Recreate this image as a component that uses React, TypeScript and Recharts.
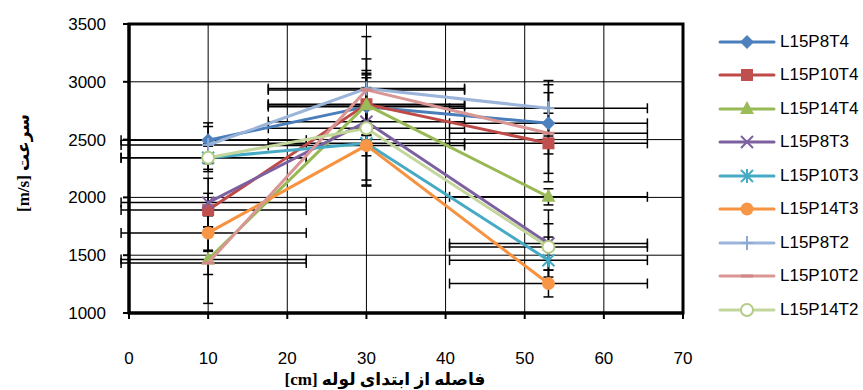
import React from 'react';
import { ScatterChart, Scatter, XAxis, YAxis, CartesianGrid, ErrorBar, ReferenceArea, Label } from 'recharts';

// distance from pipe start [cm]
const distances = [10, 30, 53];
const xTicks = [0, 10, 20, 30, 40, 50, 60, 70];
const yTicks = [1000, 1500, 2000, 2500, 3000, 3500];
// horizontal error [minus, plus], same for every series
const distanceErr = [[11, 12.4], [12.4, 12.4], [12.5, 12.5]];

// velocity [m/s] at each distance
const l15p8t4 = [2495, 2785, 2641];
const l15p10t4 = [1890, 2806, 2468];
const l15p14t4 = [1463, 2800, 2005];
const l15p8t3 = [1955, 2655, 1601];
const l15p10t3 = [2343, 2468, 1457];
const l15p14t3 = [1693, 2450, 1255];
const l15p8t2 = [2453, 2941, 2771];
const l15p10t2 = [1433, 2930, 2555];
const l15p14t2 = [2343, 2598, 1572];

// vertical error (+/-)
const l15p8t4Err = [150, 250, 265];
const l15p10t4Err = [145, 268, 260];
const l15p14t4Err = [380, 260, 70];
const l15p8t3Err = [210, 295, 290];
const l15p10t3Err = [120, 318, 200];
const l15p14t3Err = [150, 343, 116];
const l15p8t2Err = [160, 450, 240];
const l15p10t2Err = [100, 268, 420];
const l15p14t2Err = [100, 500, 200];

const series = [
    { name: 'L15P8T4', values: l15p8t4, err: l15p8t4Err, color: '#4A7EBB', markColor: '#4F81BD', mark: 'diamond' },
    { name: 'L15P10T4', values: l15p10t4, err: l15p10t4Err, color: '#BE4B48', markColor: '#C0504D', mark: 'square' },
    { name: 'L15P14T4', values: l15p14t4, err: l15p14t4Err, color: '#98B954', markColor: '#9BBB59', mark: 'triangle' },
    { name: 'L15P8T3', values: l15p8t3, err: l15p8t3Err, color: '#7D60A0', markColor: '#7D60A0', mark: 'x' },
    { name: 'L15P10T3', values: l15p10t3, err: l15p10t3Err, color: '#46AAC5', markColor: '#46AAC5', mark: 'star' },
    { name: 'L15P14T3', values: l15p14t3, err: l15p14t3Err, color: '#F69240', markColor: '#F79646', mark: 'circle' },
    { name: 'L15P8T2', values: l15p8t2, err: l15p8t2Err, color: '#9BB5DA', markColor: '#8FAAD2', mark: 'plus' },
    { name: 'L15P10T2', values: l15p10t2, err: l15p10t2Err, color: '#D99694', markColor: '#D08886', mark: 'dash' },
    { name: 'L15P14T2', values: l15p14t2, err: l15p14t2Err, color: '#C3D69B', markColor: '#B5CC86', mark: 'ring' },
];

const tickFont = { fill: '#000', fontSize: 17, fontFamily: "'Liberation Sans', Arial, sans-serif" };
const titleFont = "'Liberation Serif', 'DejaVu Serif', 'DejaVu Sans', serif";

function Marker({ kind, cx, cy, color }: { kind: string; cx: number; cy: number; color: string }) {
    switch (kind) {
        case 'diamond':
            return <path d={`M${cx},${cy - 7}L${cx + 7},${cy}L${cx},${cy + 7}L${cx - 7},${cy}Z`} fill={color} />;
        case 'square':
            return <rect x={cx - 6} y={cy - 6} width={12} height={12} fill={color} />;
        case 'triangle':
            return <path d={`M${cx},${cy - 8}L${cx + 7},${cy + 5}L${cx - 7},${cy + 5}Z`} fill={color} />;
        case 'x':
            return <path d={`M${cx - 6},${cy - 6}L${cx + 6},${cy + 6}M${cx + 6},${cy - 6}L${cx - 6},${cy + 6}`} stroke={color} strokeWidth={2} />;
        case 'star':
            return <path d={`M${cx - 6},${cy - 6}L${cx + 6},${cy + 6}M${cx + 6},${cy - 6}L${cx - 6},${cy + 6}M${cx},${cy - 7}L${cx},${cy + 7}`} stroke={color} strokeWidth={2} />;
        case 'circle':
            return <circle cx={cx} cy={cy} r={6.5} fill={color} />;
        case 'plus':
            return <path d={`M${cx},${cy - 7}L${cx},${cy + 7}M${cx - 6},${cy}L${cx + 6},${cy}`} stroke={color} strokeWidth={2} />;
        case 'dash':
            return <path d={`M${cx - 6},${cy}L${cx + 6},${cy}`} stroke={color} strokeWidth={3} />;
        case 'ring':
            return <circle cx={cx} cy={cy} r={6} fill="#fff" stroke={color} strokeWidth={2} />;
        default:
            return <g />;
    }
}

function toPoints(values: number[], err: number[]) {
    return values.map((v, i) => ({ x: distances[i], y: v, ex: distanceErr[i], ey: err[i] }));
}

export default function App() {
    return (
        <div style={{ position: 'absolute', left: 0, top: 0, width: 863, height: 390, background: '#fff' }}>
            <ScatterChart width={863} height={390} margin={{ top: 24, right: 180, bottom: 0, left: 0 }}>
                <CartesianGrid stroke="#000" strokeWidth={1} />
                <XAxis
                    type="number"
                    dataKey="x"
                    domain={[0, 70]}
                    allowDataOverflow
                    ticks={xTicks}
                    height={77}
                    tick={tickFont}
                    tickSize={6}
                    tickMargin={33}
                    axisLine={{ stroke: '#000', strokeWidth: 3 }}
                    tickLine={{ stroke: '#000', strokeWidth: 2 }}
                >
                    <Label
                        content={() => (
                            <text x={385} y={385} textAnchor="middle" fontSize={17} fontWeight="bold" fontFamily={titleFont} fill="#000">
                                [cm] فاصله از ابتدای لوله
                            </text>
                        )}
                    />
                </XAxis>
                <YAxis
                    type="number"
                    dataKey="y"
                    domain={[1000, 3500]}
                    allowDataOverflow
                    ticks={yTicks}
                    width={129}
                    tick={tickFont}
                    tickSize={6}
                    tickMargin={17}
                    axisLine={{ stroke: '#000', strokeWidth: 3 }}
                    tickLine={{ stroke: '#000', strokeWidth: 2 }}
                >
                    <Label
                        content={() => (
                            <text x={29} y={163} transform="rotate(-90 29 163)" textAnchor="middle" fontSize={17} fontWeight="bold" fontFamily={titleFont} fill="#000">
                                [m/s] سرعت
                            </text>
                        )}
                    />
                </YAxis>
                <ReferenceArea x1={0} x2={70} y1={1000} y2={3500} fill="none" stroke="#000" strokeWidth={3} />

                {/* error bars first, so every line sits on top of them */}
                {series.map((s) => (
                    <Scatter
                        key={s.name + '-err'}
                        data={toPoints(s.values, s.err)}
                        shape={() => <g />}
                        legendType="none"
                        isAnimationActive={false}
                    >
                        <ErrorBar dataKey="ex" direction="x" stroke="#000" strokeWidth={1.5} width={5} isAnimationActive={false} />
                        <ErrorBar dataKey="ey" direction="y" stroke="#000" strokeWidth={1.5} width={5} isAnimationActive={false} />
                    </Scatter>
                ))}

                {series.map((s) => (
                    <Scatter
                        key={s.name}
                        name={s.name}
                        data={toPoints(s.values, s.err)}
                        line={{ stroke: s.color, strokeWidth: 3 }}
                        lineType="joint"
                        shape={(p: any) => <Marker kind={s.mark} cx={p.cx} cy={p.cy} color={s.markColor} />}
                        isAnimationActive={false}
                    />
                ))}
            </ScatterChart>

            <div style={{ position: 'absolute', left: 718, top: 25, fontFamily: "'Liberation Sans', Arial, sans-serif", fontSize: 17, color: '#000' }}>
                {series.map((s) => (
                    <div key={s.name} style={{ height: 33.5, display: 'flex', alignItems: 'center' }}>
                        <svg width={58} height={16} style={{ display: 'block' }}>
                            <line x1={2} y1={8} x2={56} y2={8} stroke={s.color} strokeWidth={3} strokeLinecap="round" />
                            <Marker kind={s.mark} cx={29} cy={8} color={s.markColor} />
                        </svg>
                        <span style={{ marginLeft: 4 }}>{s.name}</span>
                    </div>
                ))}
            </div>
        </div>
    );
}
